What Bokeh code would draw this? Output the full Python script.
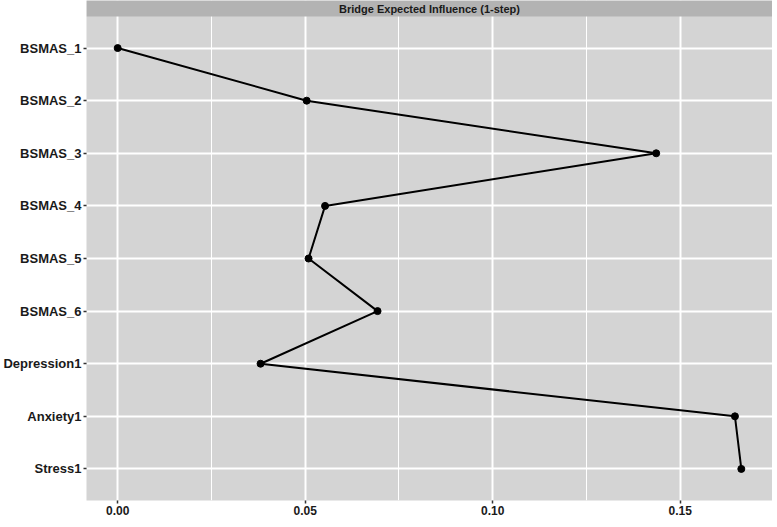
from bokeh.plotting import figure
from bokeh.models import Range1d, FixedTicker, Label
from bokeh.embed import file_html
from bokeh.resources import INLINE

# ---- data ----
nodes = ["BSMAS_1", "BSMAS_2", "BSMAS_3", "BSMAS_4", "BSMAS_5", "BSMAS_6",
         "Depression1", "Anxiety1", "Stress1"]
bei = [0.0, 0.0504, 0.1436, 0.0553, 0.0509, 0.0693, 0.0381, 0.1646, 0.1663]
x_ticks = [0.0, 0.05, 0.10, 0.15]
x_minor_ticks = [0.025, 0.075, 0.125]
x_tick_labels = ["0.00", "0.05", "0.10", "0.15"]
strip_title = "Bridge Expected Influence (1-step)"

ypos = list(range(len(nodes)))  # 0 = top row

# ---- layout ----
frame_w = 686
frame_h = 500
strip_px = 16

span = max(bei) - min(bei)
x0 = min(bei) - 0.05 * span
x1 = max(bei) + 0.05 * span

panel_units = (len(nodes) - 1) + 1.2
px_per_unit = (frame_h - strip_px) / panel_units
strip_units = strip_px / px_per_unit
y_bottom = (len(nodes) - 1) + 0.6
y_panel_top = -0.6
y_top = y_panel_top - strip_units

p = figure(frame_width=frame_w, frame_height=frame_h,
           x_range=Range1d(x0, x1), y_range=Range1d(y_bottom, y_top),
           output_backend="svg", toolbar_location=None,
           min_border_left=82, min_border_right=0, min_border_top=0, min_border_bottom=0)

p.background_fill_color = "#D4D4D4"
p.border_fill_color = "white"
p.outline_line_color = None

# grids
p.xaxis.ticker = FixedTicker(ticks=x_ticks, minor_ticks=x_minor_ticks)
p.yaxis.ticker = FixedTicker(ticks=ypos)
p.xgrid.grid_line_color = "white"
p.xgrid.grid_line_width = 2
p.xgrid.minor_grid_line_color = "white"
p.xgrid.minor_grid_line_width = 1
p.ygrid.grid_line_color = "white"
p.ygrid.grid_line_width = 2

# axes
for ax in (p.xaxis, p.yaxis):
    ax.axis_line_color = None
    ax.major_tick_line_color = "#333333"
    ax.major_tick_line_width = 1.5
    ax.major_tick_in = 0
    ax.major_tick_out = 3
    ax.minor_tick_line_color = None
    ax.major_label_text_font = "Liberation Sans"
    ax.major_label_text_font_style = "bold"
    ax.major_label_text_font_size = "13px"
    ax.major_label_text_color = "#1a1a1a"
    ax.major_label_standoff = 2

p.xaxis.major_label_text_font_size = "12px"
p.xaxis.major_label_standoff = 1
p.xaxis.major_label_overrides = {t: l for t, l in zip(x_ticks, x_tick_labels)}
p.yaxis.major_label_overrides = {i: n for i, n in zip(ypos, nodes)}

# strip
p.quad(left=[x0], right=[x1], top=[y_top], bottom=[y_panel_top],
       fill_color="#B3B3B3", line_color=None)
p.add_layout(Label(x=(x0 + x1) / 2, y=(y_top + y_panel_top) / 2, text=strip_title,
                   text_align="center", text_baseline="middle",
                   text_font="Liberation Sans", text_font_style="bold",
                   text_font_size="11px", text_color="#1a1a1a"))

# data
p.line(bei, ypos, line_color="black", line_width=2)
p.scatter(bei, ypos, size=7, fill_color="black", line_color="black")

open("out.html", "w").write(file_html(p, INLINE))
